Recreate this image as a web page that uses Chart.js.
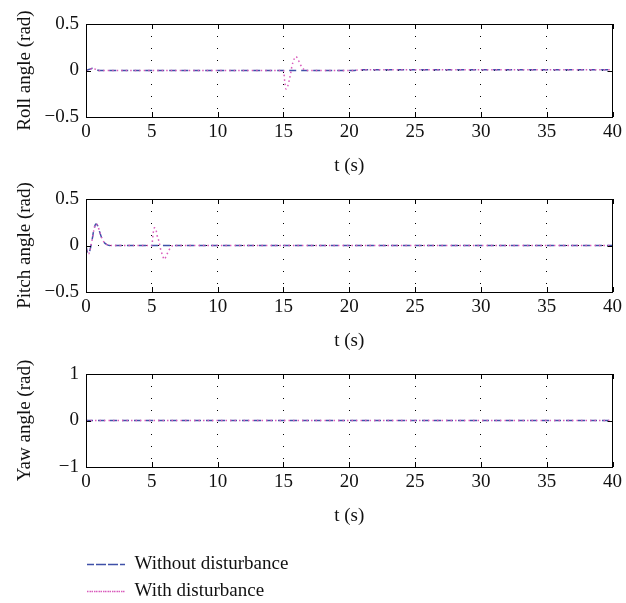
<!DOCTYPE html>
<html>
<head>
<meta charset="utf-8">
<script src="https://cdn.jsdelivr.net/npm/chart.js@4.4.1/dist/chart.umd.min.js"></script>
<style>
  body { margin: 0; background: #fff; }
  #wrap { position: relative; width: 626px; height: 603px; overflow: hidden; }
  #wrap canvas { position: absolute; left: 0; }
</style>
</head>
<body>
<div id="wrap">
  <canvas id="roll" width="626" height="175" style="top:0px"></canvas>
  <canvas id="pitch" width="626" height="175" style="top:175px"></canvas>
  <canvas id="yaw" width="626" height="175" style="top:350px"></canvas>
  <canvas id="legend" width="626" height="90" style="top:547px"></canvas>
</div>
<script>
// tick labels
var xTicks = [0, 5, 10, 15, 20, 25, 30, 35, 40];
var angleTicks = [-0.5, 0, 0.5];
var yawTicks = [-1, 0, 1];

// roll angle (rad)
var rollTime = [0, 0.3, 0.5, 0.7, 1.0, 15.0, 15.1, 15.2, 15.3, 15.45, 15.55, 15.65, 15.8, 15.95, 16.1, 16.3, 16.5, 16.7, 20.3, 20.8, 40];
var rollWithout = [0, 0.015, 0.025, 0.015, 0, 0, 0, 0, 0, 0, 0, 0, 0, 0, 0, 0, 0, 0, 0, 0.008, 0.008];
var rollWith = [0, 0.015, 0.025, 0.015, 0, 0, -0.12, -0.2, -0.18, -0.1, -0.03, 0.05, 0.12, 0.15, 0.12, 0.06, 0.02, 0, 0, 0.008, 0.008];

// pitch angle (rad)
var pitchTime = [0, 0.1, 0.2, 0.3, 0.45, 0.6, 0.75, 0.9, 1.05, 1.2, 1.4, 1.6, 1.8, 5.0, 5.1, 5.2, 5.3, 5.4, 5.55, 5.65, 5.8, 5.95, 6.1, 6.3, 6.5, 6.7, 40];
var pitchWithout = [0, -0.07, -0.09, -0.05, 0.05, 0.17, 0.23, 0.21, 0.14, 0.08, 0.03, 0.01, 0, 0, 0, 0, 0, 0, 0, 0, 0, 0, 0, 0, 0, 0, 0];
var pitchWith = [0, -0.07, -0.09, -0.05, 0.05, 0.17, 0.23, 0.21, 0.14, 0.08, 0.03, 0.01, 0, 0, 0.13, 0.19, 0.18, 0.11, 0.04, -0.03, -0.1, -0.15, -0.11, -0.05, -0.01, 0, 0];

// yaw angle (rad)
var yawTime = [0, 40];
var yawWithout = [0, 0];
var yawWith = [0, 0];

var seriesNames = ['Without disturbance', 'With disturbance'];
var blue = '#3f50a8';
var pink = '#d95cbc';

Chart.defaults.font.family = "'Liberation Serif', 'Times New Roman', serif";
Chart.defaults.font.size = 19;
Chart.defaults.color = '#111';

function pairs(t, v) {
  return t.map(function (x, i) { return { x: x, y: v[i] }; });
}

function setTicks(list) {
  return function (scale) {
    scale.ticks = list.map(function (v) { return { value: v }; });
  };
}

// full box and inward tick marks like the original figure
var boxPlugin = {
  id: 'box',
  afterDatasetsDraw: function (chart) {
    var a = chart.chartArea, ctx = chart.ctx;
    var xs = chart.scales.x, ys = chart.scales.y;
    ctx.save();
    ctx.strokeStyle = '#000';
    ctx.lineWidth = 1;
    ctx.beginPath();
    xs.ticks.forEach(function (t) {
      var px = Math.round(xs.getPixelForValue(t.value)) + 0.5;
      ctx.moveTo(px, a.bottom); ctx.lineTo(px, a.bottom - 5);
      ctx.moveTo(px, a.top); ctx.lineTo(px, a.top + 5);
    });
    ys.ticks.forEach(function (t) {
      var py = Math.round(ys.getPixelForValue(t.value)) + 0.5;
      ctx.moveTo(a.left, py); ctx.lineTo(a.left + 5, py);
      ctx.moveTo(a.right, py); ctx.lineTo(a.right - 5, py);
    });
    ctx.stroke();
    ctx.strokeRect(Math.round(a.left) + 0.5, Math.round(a.top) + 0.5,
      Math.round(a.right - a.left) - 1, Math.round(a.bottom - a.top));
    ctx.restore();
  }
};

function makeChart(id, label, time, without, withDist, yTicks) {
  var lo = yTicks[0], hi = yTicks[yTicks.length - 1];
  return new Chart(document.getElementById(id), {
    type: 'line',
    data: {
      datasets: [{
        label: seriesNames[1],
        data: pairs(time, withDist),
        borderColor: pink,
        borderWidth: 1.5,
        borderDash: [1.5, 3],
        pointRadius: 0,
        cubicInterpolationMode: 'monotone'
      }, {
        label: seriesNames[0],
        data: pairs(time, without),
        borderColor: blue,
        borderWidth: 1.5,
        borderDash: [7, 5],
        pointRadius: 0,
        cubicInterpolationMode: 'monotone'
      }]
    },
    options: {
      responsive: false,
      animation: false,
      events: [],
      layout: { padding: { top: 24, right: 9, left: 0, bottom: 0 } },
      plugins: { legend: { display: false }, tooltip: { enabled: false } },
      scales: {
        x: {
          type: 'linear', min: 0, max: 40,
          afterBuildTicks: setTicks(xTicks),
          afterFit: function (s) { s.height = 58; },
          grid: { color: '#000', drawTicks: false },
          border: { display: false, dash: [1, 11] },
          ticks: { padding: 4, maxRotation: 0, autoSkip: false, color: '#111' },
          title: { display: true, text: 't (s)', padding: { top: 0, bottom: -2 }, color: '#111' }
        },
        y: {
          min: lo, max: hi,
          afterBuildTicks: setTicks(yTicks),
          afterFit: function (s) { s.width = 86; },
          grid: { color: '#000', drawTicks: false },
          border: { display: false, dash: [1, 11] },
          ticks: {
            padding: 7, color: '#111',
            callback: function (v) { return v < 0 ? '\u2212' + Math.abs(v) : String(v); }
          },
          title: { display: true, text: label, padding: { top: 14, bottom: 0 }, color: '#111' }
        }
      }
    },
    plugins: [boxPlugin]
  });
}

makeChart('roll', 'Roll angle (rad)', rollTime, rollWithout, rollWith, angleTicks);
makeChart('pitch', 'Pitch angle (rad)', pitchTime, pitchWithout, pitchWith, angleTicks);
makeChart('yaw', 'Yaw angle (rad)', yawTime, yawWithout, yawWith, yawTicks);

// legend drawn by a chart with no visible axes
new Chart(document.getElementById('legend'), {
  type: 'line',
  data: {
    datasets: [{
      label: seriesNames[0], data: [],
      borderColor: blue, backgroundColor: 'transparent', borderWidth: 1.5, borderDash: [7, 5]
    }, {
      label: seriesNames[1], data: [],
      borderColor: pink, backgroundColor: 'transparent', borderWidth: 1.5, borderDash: [1.5, 3]
    }]
  },
  options: {
    responsive: false,
    animation: false,
    events: [],
    layout: { padding: { left: 79, top: 0 } },
    scales: { x: { display: false }, y: { display: false } },
    plugins: {
      tooltip: { enabled: false },
      legend: {
        position: 'left',
        align: 'start',
        labels: { boxWidth: 38, boxHeight: 0, padding: 8, color: '#111' }
      }
    }
  }
});
</script>
</body>
</html>
